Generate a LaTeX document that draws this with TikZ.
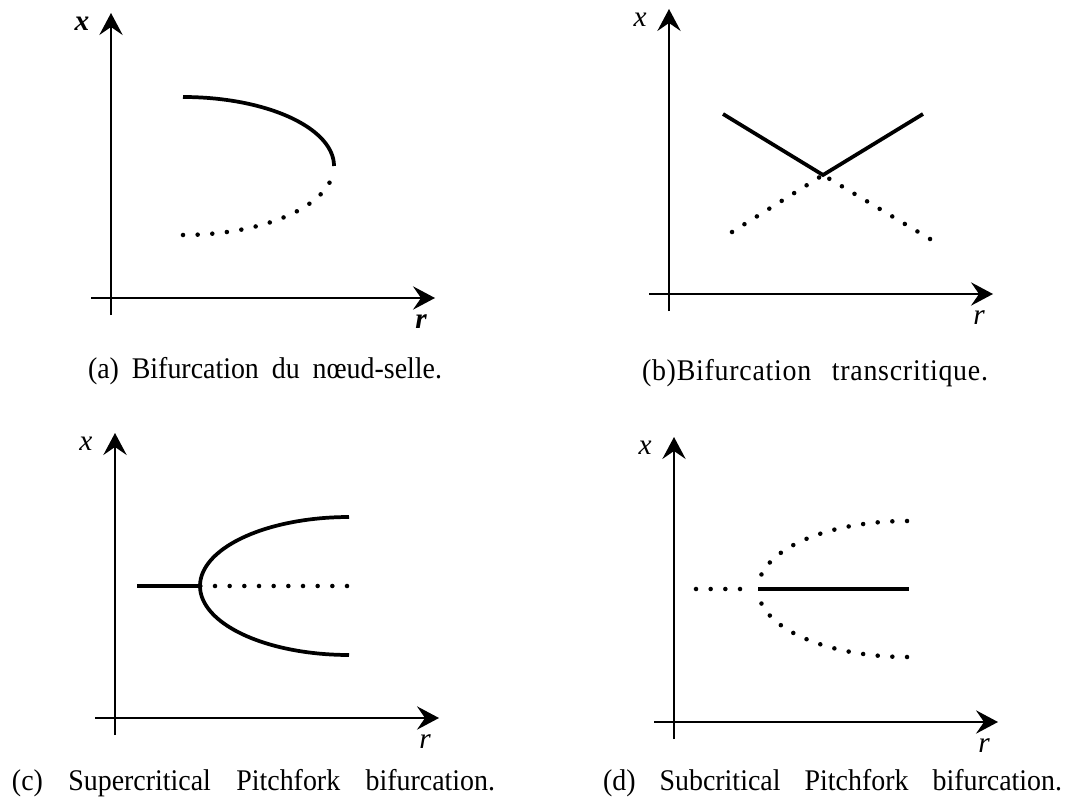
\documentclass[tikz,border=0pt]{standalone}
\usepackage{fontspec}
\setmainfont{Liberation Serif}
\newfontfamily\capfont[FakeStretch=0.93]{Liberation Serif}
\newfontfamily\capfontb[FakeStretch=0.93, LetterSpace=2.5]{Liberation Serif}
\usetikzlibrary{arrows.meta}

\begin{document}
\begin{tikzpicture}[x=0.75pt, y=-0.75pt,
    axis/.style={line width=1.3pt, -{Stealth[length=16.5pt, width=17.5pt, inset=6pt]}},
    curve/.style={line width=2.8pt},
    dots/.style={line width=3.4pt, line cap=round, dash pattern=on 0pt off 11pt},
    lbl/.style={font=\fontsize{22}{26}\selectfont\itshape, inner sep=0pt},
    captxt/.style={font=\capfont\fontsize{22.5}{27}\selectfont, anchor=base, inner sep=0pt}
]
    \useasboundingbox (0,0) rectangle (1069,798);

    % axes of the four panels
    \foreach \ox/\oy/\p/\xl/\rl in {111/298/a/\textbf{x}/\textbf{r}, 669/294/b/x/r, 115/718/c/x/r, 674/722/d/x/r}{
        \begin{scope}[shift={(\ox,\oy)}]
            \coordinate (\p-o) at (0,0);
            \coordinate (\p-ybot) at (0,17);
            \coordinate (\p-ytop) at (0,-285);
            \coordinate (\p-xleft) at (-20,0);
            \coordinate (\p-xright) at (324,0);
            \draw[axis] (\p-ybot) -- (\p-ytop);
            \draw[axis] (\p-xleft) -- (\p-xright);
            \node[lbl] (\p-xlab) at (-29,-274) {\xl};
            \node[lbl] (\p-rlab) at (310,24) {\rl};
        \end{scope}
    }

    % (a) saddle-node
    \begin{scope}[shift={(a-o)}]
        \draw[curve] plot[domain=90:0, samples=50] ({72+151*cos(\x)},{-132-69*sin(\x)});
        \draw[dots] plot[domain=-90:-4, samples=50] ({72+151*cos(\x)},{-132-69*sin(\x)});
    \end{scope}

    % (b) transcritical
    \begin{scope}[shift={(b-o)}]
        \coordinate (b-l) at (54,-180);
        \coordinate (b-m) at (154,-119);
        \coordinate (b-r) at (254,-180);
        \coordinate (b-dl) at (63,-62);
        \coordinate (b-dr) at (261,-55);
        \draw[curve] (b-l) -- (b-m) -- (b-r);
        \draw[dots] (b-dl) -- (b-m);
        \draw[dots] (b-dr) -- (b-m);
    \end{scope}

    % (c) supercritical pitchfork
    \begin{scope}[shift={(c-o)}]
        \coordinate (c-s) at (22,-132);
        \coordinate (c-v) at (85,-132);
        \coordinate (c-e) at (232,-132);
        \draw[curve] (c-s) -- (c-v);
        \draw[curve] plot[domain=90:270, samples=80] ({234+149*cos(\x)},{-132-69*sin(\x)});
        \draw[dots] (c-e) -- (c-v);
    \end{scope}

    % (d) subcritical pitchfork
    \begin{scope}[shift={(d-o)}]
        \coordinate (d-s) at (22,-133);
        \coordinate (d-sx) at (70,-133);
        \coordinate (d-v) at (84,-133);
        \coordinate (d-e) at (235,-133);
        \draw[dots] (d-s) -- (d-sx);
        \draw[curve] (d-v) -- (d-e);
        \draw[dots] plot[domain=90:178, samples=50] ({233+149*cos(\x)},{-133-68*sin(\x)});
        \draw[dots] plot[domain=270:182, samples=50] ({233+149*cos(\x)},{-133-68*sin(\x)});
    \end{scope}

    % captions
    \node[captxt] (capa) at (265,378) {\makebox[265.5pt][s]{(a) Bifurcation du nœud-selle.}};
    \node[captxt, font=\capfontb\fontsize{22.5}{27}\selectfont] (capb) at (815,380) {\makebox[259.5pt][s]{(b)Bifurcation transcritique.}};
    \node[captxt] (capc) at (253.5,790) {\makebox[362.25pt][s]{(c) Supercritical Pitchfork bifurcation.}};
    \node[captxt] (capd) at (832.5,790) {\makebox[344.25pt][s]{(d) Subcritical Pitchfork bifurcation.}};
\end{tikzpicture}
\end{document}
